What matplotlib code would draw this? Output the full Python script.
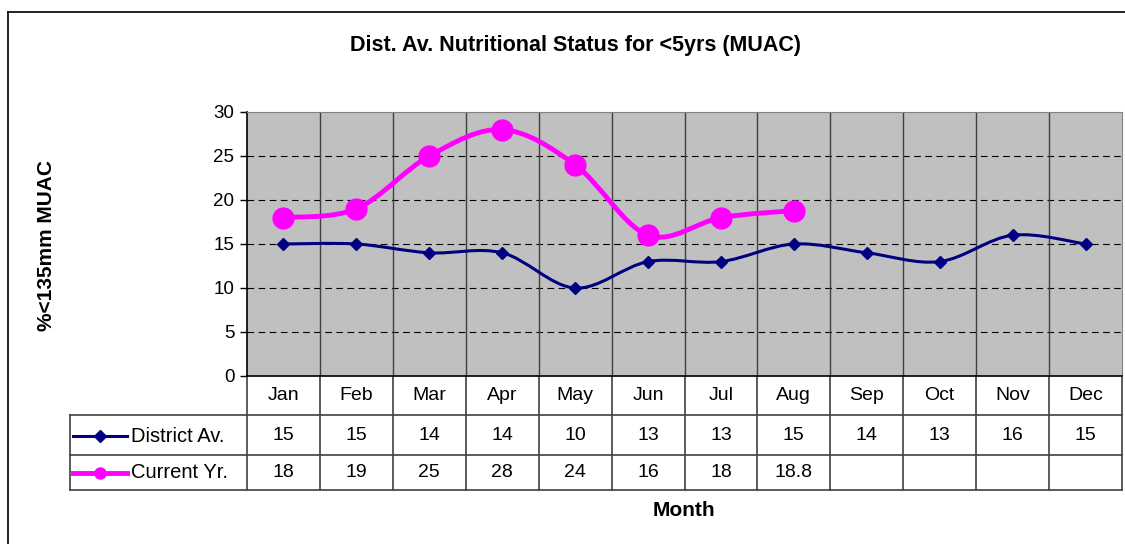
import numpy as np
import matplotlib
matplotlib.use("Agg")
import matplotlib.pyplot as plt
from matplotlib.path import Path
from matplotlib.patches import PathPatch
from matplotlib.lines import Line2D
import matplotlib.transforms as mtransforms

plt.rcParams['font.family'] = ['Liberation Sans', 'DejaVu Sans']

months = ["Jan", "Feb", "Mar", "Apr", "May", "Jun", "Jul", "Aug", "Sep", "Oct", "Nov", "Dec"]
district = [15, 15, 14, 14, 10, 13, 13, 15, 14, 13, 16, 15]
current = [18, 19, 25, 28, 24, 16, 18, 18.8]
district_lbl = ["15", "15", "14", "14", "10", "13", "13", "15", "14", "13", "16", "15"]
current_lbl = ["18", "19", "25", "28", "24", "16", "18", "18.8"]

NAVY = "#000080"
MAG = "#FF00FF"
FS = 14


def smooth_path(x, y):
    # Excel-like smoothed line: Catmull-Rom turned into cubic Bezier segments
    p = np.column_stack([x, y]).astype(float)
    n = len(p)
    verts = [p[0]]
    codes = [Path.MOVETO]
    for i in range(n - 1):
        p0 = p[i - 1] if i > 0 else p[i]
        p3 = p[i + 2] if i + 2 < n else p[i + 1]
        c1 = p[i] + (p[i + 1] - p0) / 6.0
        c2 = p[i + 1] - (p3 - p[i]) / 6.0
        verts += [c1, c2, p[i + 1]]
        codes += [Path.CURVE4] * 3
    return Path(verts, codes)


fig = plt.figure(figsize=(11.25, 5.44), dpi=100)
W, H = 1125, 544
ax = fig.add_axes([247 / W, 1 - 376 / H, (1122 - 247) / W, (376 - 112) / H])
ax.set_facecolor("#C0C0C0")

x = np.arange(len(months))
ax.set_xlim(-0.5, 11.5)
ax.set_ylim(0, 30)
ax.set_yticks([0, 5, 10, 15, 20, 25, 30])
ax.set_xticks([])
ax.tick_params(axis='y', labelsize=13.5, direction='out', length=5, width=1, pad=4, colors='black')

for yv in [5, 10, 15, 20, 25]:
    ax.axhline(yv, color='black', lw=0.8, ls=(0, (6, 4)), zorder=1)
for xv in np.arange(0.5, 11.5, 1):
    ax.axvline(xv, color='#404040', lw=1, zorder=1)

for s in ['top', 'right']:
    ax.spines[s].set_color('#808080')
for s in ['left', 'bottom']:
    ax.spines[s].set_color('black')
    ax.spines[s].set_linewidth(1.2)

ax.add_patch(PathPatch(smooth_path(x, district), fill=False, edgecolor=NAVY, lw=2.2, zorder=3))
ax.plot(x, district, ls='none', marker='D', ms=6, color=NAVY, zorder=4)

xc = np.arange(len(current))
ax.add_patch(PathPatch(smooth_path(xc, current), fill=False, edgecolor=MAG, lw=3.5, zorder=3))
ax.plot(xc, current, ls='none', marker='o', ms=15, color=MAG, zorder=4)

# data table under the plot
tr = mtransforms.blended_transform_factory(ax.transData, ax.transAxes)
ph = 376 - 112
r1 = -(415 - 376) / ph
r2 = -(455 - 376) / ph
r3 = -(490 - 376) / ph
xleft = -0.5 - (247 - 70) / ((1122 - 247) / 12)
lk = dict(transform=tr, clip_on=False, color='#404040', lw=1.2)
ax.add_line(Line2D([xleft, 11.5], [r1, r1], **lk))
ax.add_line(Line2D([xleft, 11.5], [r2, r2], **lk))
ax.add_line(Line2D([xleft, 11.5], [r3, r3], **lk))
ax.add_line(Line2D([xleft, xleft], [r1, r3], **lk))
for xv in np.arange(-0.5, 12, 1):
    ax.add_line(Line2D([xv, xv], [0, r3], **lk))

for i, m in enumerate(months):
    ax.text(i, r1 / 2, m, transform=tr, ha='center', va='center', fontsize=FS)
for i, v in enumerate(district_lbl):
    ax.text(i, (r1 + r2) / 2, v, transform=tr, ha='center', va='center', fontsize=FS)
for i, v in enumerate(current_lbl):
    ax.text(i, (r2 + r3) / 2, v, transform=tr, ha='center', va='center', fontsize=FS)

# legend keys inside the table
fx = lambda px: px / W
fy = lambda py: 1 - py / H
fig.add_artist(Line2D([fx(73), fx(127)], [fy(436), fy(436)], color=NAVY, lw=2.2))
fig.add_artist(Line2D([fx(100)], [fy(436)], marker='D', ms=6, color=NAVY, ls='none'))
fig.text(fx(131), fy(436), "District Av.", fontsize=14.5, va='center', ha='left')
fig.add_artist(Line2D([fx(73), fx(127)], [fy(473), fy(473)], color=MAG, lw=3.5))
fig.add_artist(Line2D([fx(100)], [fy(473)], marker='o', ms=8, color=MAG, ls='none'))
fig.text(fx(131), fy(473), "Current Yr.", fontsize=14.5, va='center', ha='left')

fig.text(fx(575), fy(45), "Dist. Av. Nutritional Status for <5yrs (MUAC)",
         fontsize=15.5, fontweight='bold', ha='center', va='center')
fig.text(fx(47), fy(245), "%<135mm MUAC", fontsize=15, fontweight='bold',
         rotation=90, ha='center', va='center')
fig.text(fx(684), fy(510), "Month", fontsize=15, fontweight='bold', ha='center', va='center')

# chart border
fig.add_artist(Line2D([fx(8), 1], [fy(12), fy(12)], color='black', lw=1.2))
fig.add_artist(Line2D([fx(8), fx(8)], [fy(12), 0], color='black', lw=1.2))

fig.savefig("out.png", dpi=100)
